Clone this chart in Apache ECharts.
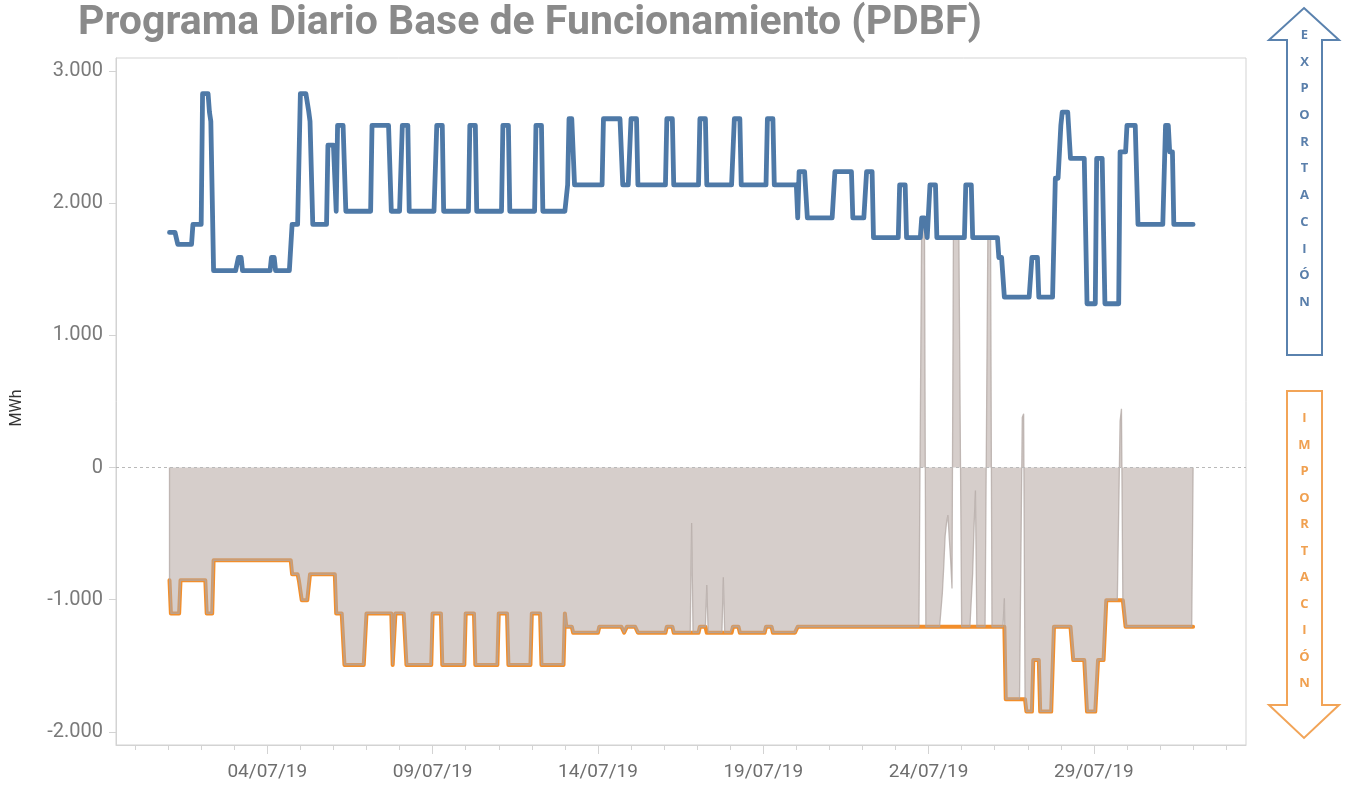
<!DOCTYPE html>
<html>
<head>
<meta charset="utf-8">
<title>PDBF</title>
<script src="https://cdn.jsdelivr.net/npm/echarts@6/dist/echarts.min.js"></script>
<style>
  html, body { margin: 0; padding: 0; background: #fff; }
  #chart { width: 1349px; height: 785px; }
</style>
</head>
<body>
<div id="chart"></div>
<script>
const HOUR = 3600 * 1000;
const DAY = 24 * HOUR;
const JULY_1 = Date.UTC(2019, 6, 1);
const HOURS_IN_MONTH = 744;

// Hourly programme as steps: [hour of the month, MWh]; each level holds until the next step.
const exportSteps = [
  [0, 1780], [7, 1690], [18, 1840], [25, 2830], [30, 2690], [31, 2620], [33, 1490],
  [51, 1590], [54, 1490], [75, 1590], [78, 1490], [90, 1840], [96, 2830], [102, 2700],
  [103, 2620], [105, 1840], [116, 2440], [122, 1940], [123, 2590], [129, 1940],
  [148, 2590], [162, 1940], [170, 2590], [175, 1940], [195, 2590], [200, 1940],
  [219, 2590], [224, 1940], [243, 2590], [248, 1940], [267, 2590], [272, 1940],
  [290, 2140], [291, 2640], [295, 2140], [316, 2640], [330, 2140], [336, 2640], [341, 2140],
  [362, 2640], [367, 2140], [386, 2640], [391, 2140], [411, 2640], [416, 2140],
  [435, 2640], [440, 2140], [457, 1890], [458, 2240], [464, 1890], [484, 2240], [497, 1890],
  [507, 2240], [512, 1740], [531, 2140], [536, 1740], [547, 1890], [551, 1740], [553, 2140],
  [558, 1740], [579, 2140], [584, 1740], [603, 1590], [607, 1290], [627, 1590], [632, 1290],
  [644, 2190], [648, 2590], [649, 2690], [655, 2340], [667, 1240], [674, 2340], [680, 1240],
  [691, 2390], [696, 2590], [704, 1840], [724, 2590], [727, 2390], [730, 1840]
];

const importSteps = [
  [0, -853], [2, -1104], [9, -853], [28, -1104], [33, -702], [90, -808], [95, -860],
  [97, -1004], [103, -808], [122, -1104], [128, -1494], [144, -1104], [163, -1494],
  [165, -1104], [173, -1494], [192, -1104], [199, -1494], [216, -1104], [223, -1494],
  [240, -1104], [247, -1494], [264, -1104], [271, -1494], [288, -1104], [289, -1205],
  [294, -1250], [313, -1205], [331, -1250], [333, -1205], [341, -1250], [362, -1205],
  [367, -1250], [386, -1205], [391, -1250], [410, -1205], [415, -1250], [434, -1205],
  [439, -1250], [457, -1205], [608, -1753], [623, -1847], [628, -1457], [633, -1847],
  [643, -1205], [657, -1457], [667, -1847], [675, -1457], [681, -1004], [695, -1205]
];

// Hours where the net exchange departs from the import programme: [hour of the month, MWh]
const netSpikes = [
  [380, -420], [391, -890], [403, -830],
  [547, 1890], [548, 1890], [549, 1890],
  [562, -950], [563, -750], [564, -520], [565, -420], [566, -360], [567, -350], [568, -700], [569, -915],
  [570, 1740], [571, 1740], [572, 1740], [573, 1740], [574, 1740], [575, 1740],
  [584, -800], [585, -450], [586, -174],
  [595, 1740], [596, 1740], [597, 1740],
  [607, -990],
  [620, 380], [621, 408],
  [691, 350], [692, 445]
];

const valueTicks = [-2000, -1000, 0, 1000, 2000, 3000];
const labelDays = [4, 9, 14, 19, 24, 29];

// ---- build hourly series ----
function hourly(steps) {
  const out = [];
  let k = 0;
  for (let h = 1; h <= HOURS_IN_MONTH; h++) {
    while (k + 1 < steps.length && steps[k + 1][0] <= h) k++;
    out.push([JULY_1 + h * HOUR, steps[k][1]]);
  }
  return out;
}
const exportData = hourly(exportSteps);
const importData = hourly(importSteps);
const spikeMap = new Map(netSpikes);
const netData = importData.map(([t, v], i) => [t, spikeMap.has(i + 1) ? spikeMap.get(i + 1) : v]);
// close the shaded band against the zero line at both ends
netData.unshift([netData[0][0], 0]);
netData.push([netData[netData.length - 1][0], 0]);

// ---- axis helpers ----
const X_MIN = Date.UTC(2019, 5, 29, 10, 10);
const X_MAX = Date.UTC(2019, 7, 2, 14, 24);
const dayTicks = [];
for (let t = Math.ceil(X_MIN / DAY) * DAY; t <= X_MAX; t += DAY) dayTicks.push(t);
const labelTimes = labelDays.map(d => Date.UTC(2019, 6, d));

function pad(n) { return (n < 10 ? '0' : '') + n; }
function fmtDate(v) {
  const d = new Date(v);
  return pad(d.getUTCDate()) + '/' + pad(d.getUTCMonth() + 1) + '/' + String(d.getUTCFullYear()).slice(2);
}
function fmtThousands(v) {
  const s = String(Math.abs(Math.round(v))).replace(/\B(?=(\d{3})+(?!\d))/g, '.');
  return (v < 0 ? '-' : '') + s;
}

const AXIS_GREY = '#d3d3d3';
const chart = echarts.init(document.getElementById('chart'), null, { renderer: 'canvas' });

chart.setOption({
  animation: false,
  backgroundColor: '#ffffff',
  title: {
    text: 'Programa Diario Base de Funcionamiento (PDBF)',
    left: 78, top: 3, padding: 0,
    textStyle: { fontFamily: 'Roboto', fontSize: 41, fontWeight: 'bold', color: '#8a8a8a' }
  },
  grid: {
    left: 116, right: 103, top: 58, bottom: 40,
    show: true, borderColor: AXIS_GREY, borderWidth: 1, containLabel: false
  },
  xAxis: [
    {
      type: 'value', min: X_MIN, max: X_MAX, position: 'bottom',
      axisLine: { show: true, onZero: false, lineStyle: { color: AXIS_GREY } },
      axisTick: { show: true, customValues: dayTicks, length: 5, lineStyle: { color: AXIS_GREY } },
      axisLabel: { show: false },
      splitLine: { show: false }
    },
    {
      type: 'value', min: X_MIN, max: X_MAX, position: 'bottom',
      axisLine: { show: false, onZero: false },
      axisTick: { show: true, customValues: labelTimes, length: 9, lineStyle: { color: AXIS_GREY } },
      axisLabel: {
        customValues: labelTimes, formatter: fmtDate, margin: 18,
        color: '#6e6e6e', fontSize: 19, fontFamily: 'Roboto'
      },
      splitLine: { show: false }
    }
  ],
  yAxis: {
    type: 'value', min: -2100, max: 3100,
    axisLine: { show: true, lineStyle: { color: AXIS_GREY } },
    axisTick: { show: true, customValues: valueTicks, length: 7, lineStyle: { color: AXIS_GREY } },
    axisLabel: {
      customValues: valueTicks, formatter: fmtThousands, margin: 13,
      color: '#7a7a7a', fontSize: 20, fontFamily: 'Roboto'
    },
    splitLine: { show: false }
  },
  series: [
    {
      name: 'Importación', type: 'line', xAxisIndex: 0, data: importData,
      symbol: 'none', z: 2,
      lineStyle: { color: '#f28e2b', width: 4, cap: 'round', join: 'round' }
    },
    {
      name: 'Saldo', type: 'line', xAxisIndex: 0, data: netData,
      symbol: 'none', z: 3,
      lineStyle: { color: 'rgba(176,166,162,0.75)', width: 1.3 },
      areaStyle: { color: 'rgba(180,165,160,0.55)', opacity: 1, origin: 'auto' },
      markLine: {
        silent: true, symbol: 'none', label: { show: false },
        lineStyle: { color: '#b9b9b9', type: [3, 3], width: 1 },
        data: [{ yAxis: 0 }]
      }
    },
    {
      name: 'Exportación', type: 'line', xAxisIndex: 0, data: exportData,
      symbol: 'none', z: 4,
      lineStyle: { color: '#4e79a7', width: 4.8, cap: 'round', join: 'round' }
    }
  ],
  graphic: [
    {
      type: 'text', x: 17, y: 408, rotation: Math.PI / 2,
      style: { text: 'MWh', fill: '#333333', font: '16px Roboto', align: 'center', verticalAlign: 'middle' }
    },
    {
      type: 'polygon',
      shape: { points: [[1304, 8], [1339, 40], [1322, 40], [1322, 355], [1287, 355], [1287, 40], [1269, 40]] },
      style: { fill: '#ffffff', stroke: '#5a82ae', lineWidth: 2 }
    },
    {
      type: 'text', x: 1304.5, y: 168.7,
      style: {
        text: 'E\nX\nP\nO\nR\nT\nA\nC\nI\nÓ\nN', fill: '#5a7fab',
        font: 'bold 13px "Open Sans"', lineHeight: 26.7, align: 'center', verticalAlign: 'middle'
      }
    },
    {
      type: 'polygon',
      shape: { points: [[1287, 391], [1322, 391], [1322, 705], [1339, 705], [1304, 738], [1269, 705], [1287, 705]] },
      style: { fill: '#ffffff', stroke: '#f2a457', lineWidth: 2 }
    },
    {
      type: 'text', x: 1304.5, y: 550.8,
      style: {
        text: 'I\nM\nP\nO\nR\nT\nA\nC\nI\nÓ\nN', fill: '#f0a050',
        font: 'bold 13px "Open Sans"', lineHeight: 26.5, align: 'center', verticalAlign: 'middle'
      }
    }
  ]
});
</script>
</body>
</html>
